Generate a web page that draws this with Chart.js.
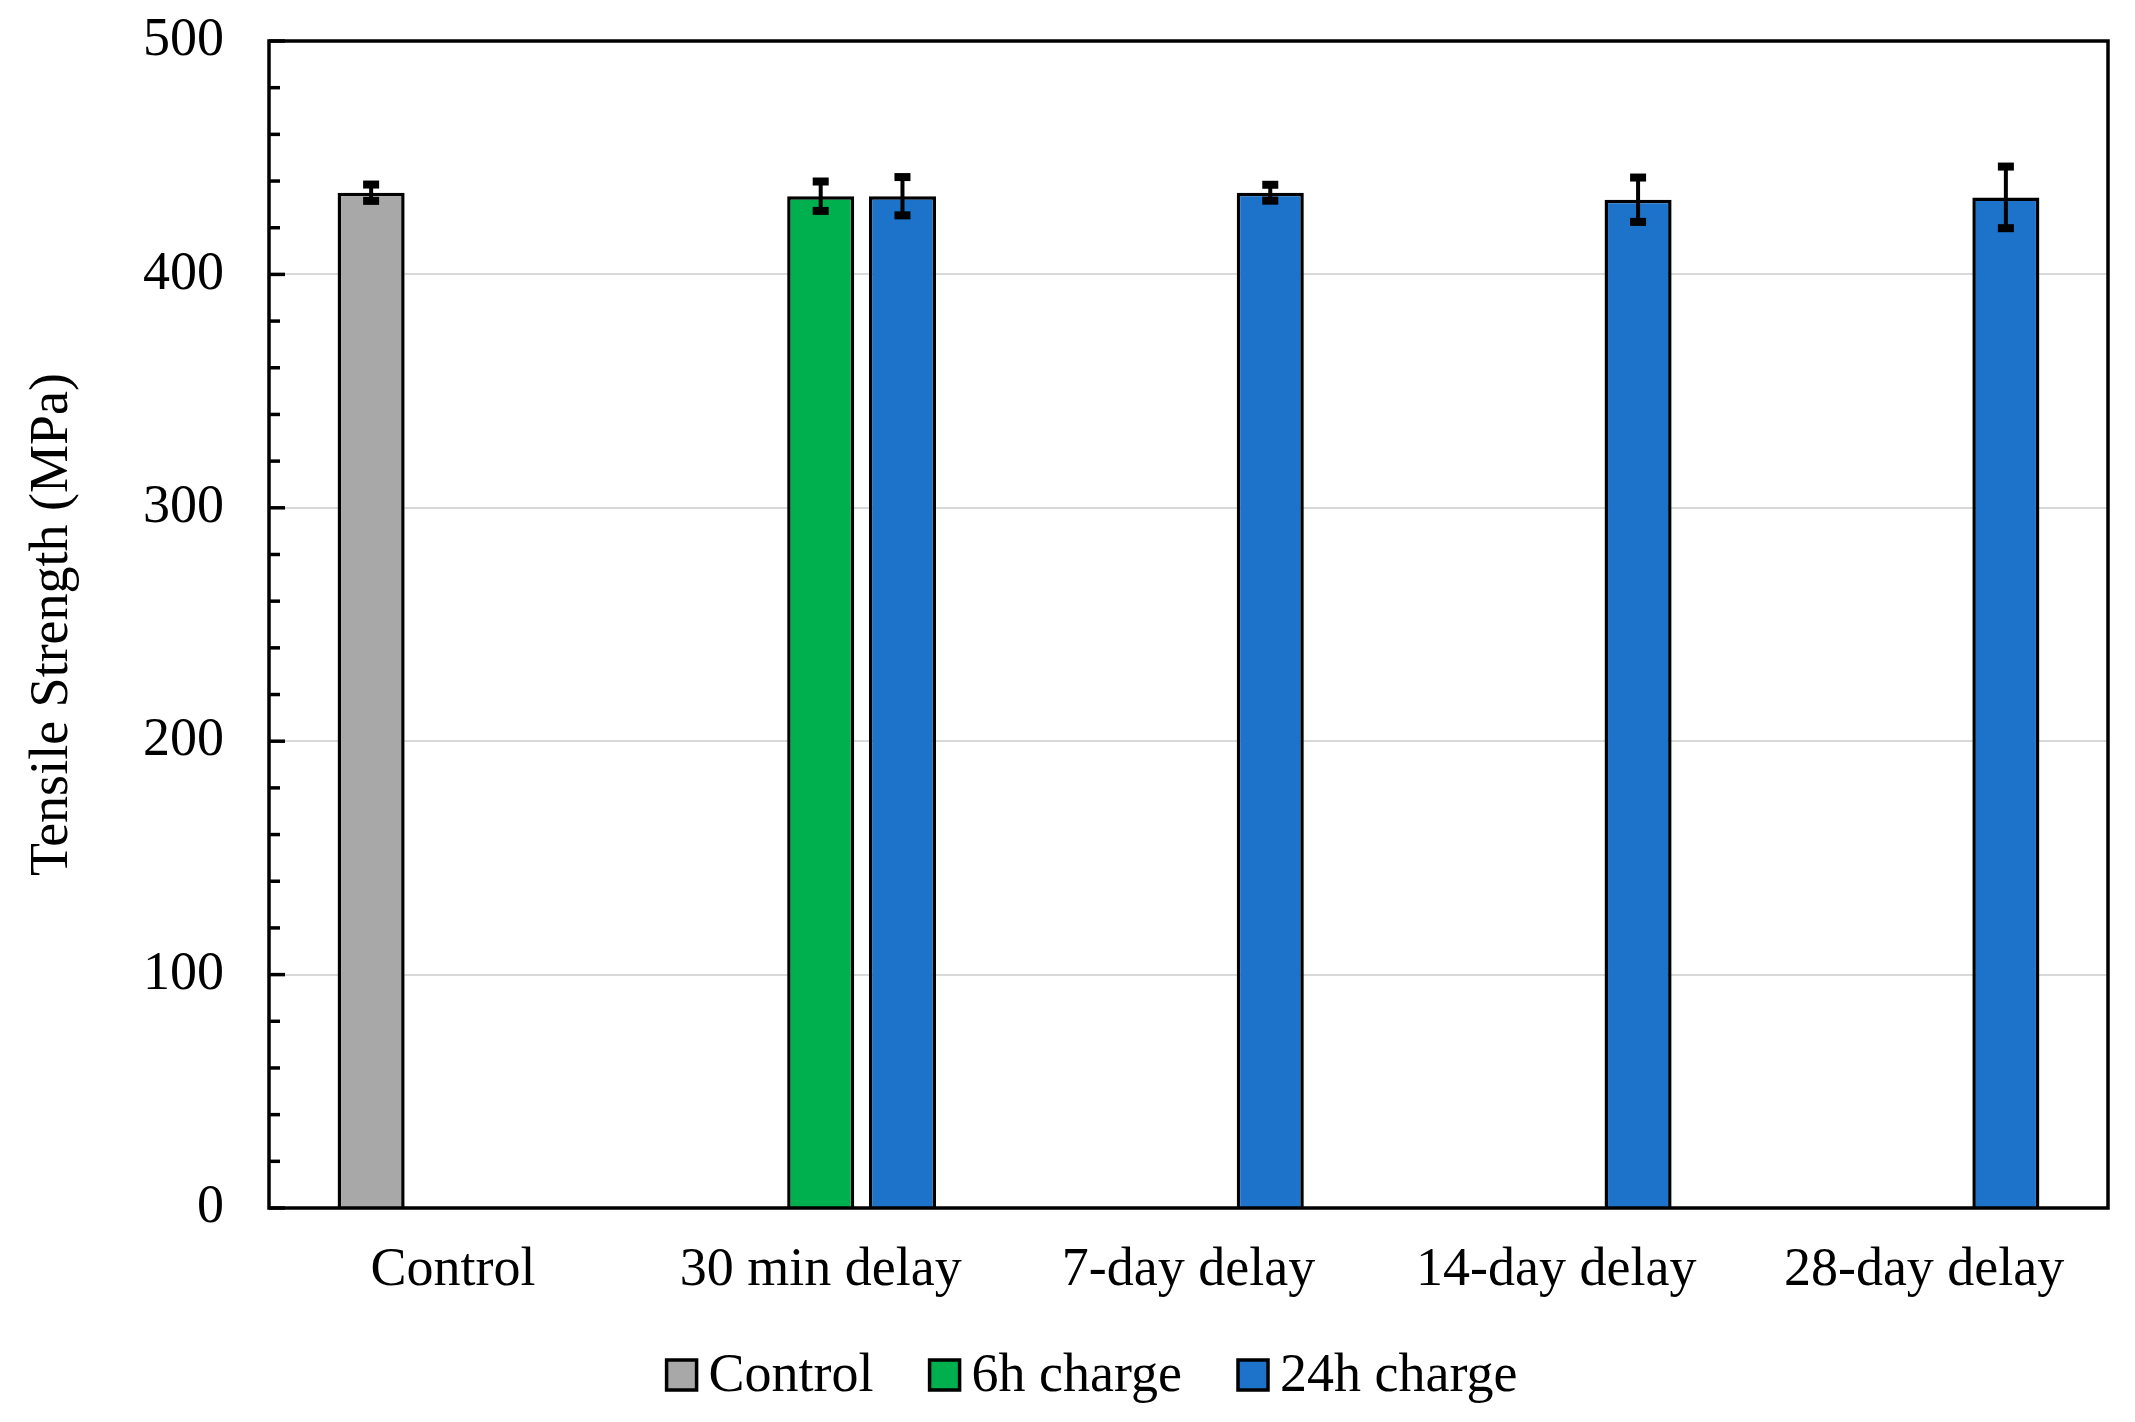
<!DOCTYPE html>
<html>
<head>
<meta charset="utf-8">
<script src="https://cdn.jsdelivr.net/npm/chart.js@4"></script>
<style>
  html, body { margin: 0; padding: 0; background: #fff; }
  #wrap { width: 2135px; height: 1422px; }
</style>
</head>
<body>
<div id="wrap"><canvas id="c" width="2135" height="1422"></canvas></div>
<script>
const categories = ["Control", "30 min delay", "7-day delay", "14-day delay", "28-day delay"];
const seriesNames = ["Control", "6h charge", "24h charge"];
const controlValues = [435, null, null, null, null];
const controlErrors = [3.5, null, null, null, null];
const charge6hValues = [null, 433.5, null, null, null];
const charge6hErrors = [null, 6.3, null, null, null];
const charge24hValues = [null, 433.5, 435, 432, 433];
const charge24hErrors = [null, 8.2, 3.4, 9.5, 13.2];
const yTicks = [0, 100, 200, 300, 400, 500];

const FONT = "'Liberation Serif', 'Times New Roman', serif";

const errorsByDataset = [controlErrors, charge6hErrors, charge24hErrors];

const errorBarPlugin = {
  id: 'errorBars',
  afterDatasetsDraw(chart) {
    const ctx = chart.ctx;
    const y = chart.scales.y;
    ctx.save();
    chart.data.datasets.forEach((ds, di) => {
      const meta = chart.getDatasetMeta(di);
      const errs = errorsByDataset[di];
      meta.data.forEach((el, i) => {
        const v = ds.data[i];
        const e = errs[i];
        if (v == null || e == null) return;
        const x = el.x;
        const yt = y.getPixelForValue(v + e);
        const yb = y.getPixelForValue(v - e);
        ctx.strokeStyle = '#000';
        ctx.lineWidth = 4;
        ctx.beginPath();
        ctx.moveTo(x, yt);
        ctx.lineTo(x, yb);
        ctx.stroke();
        ctx.fillStyle = '#000';
        ctx.fillRect(x - 8, yt - 4, 16, 8);
        ctx.fillRect(x - 8, yb - 4, 16, 8);
      });
    });
    ctx.restore();
  }
};

const framePlugin = {
  id: 'frame',
  afterDraw(chart) {
    const ctx = chart.ctx;
    const a = chart.chartArea;
    const y = chart.scales.y;
    ctx.save();
    ctx.strokeStyle = '#000';
    ctx.lineWidth = 3.5;
    ctx.strokeRect(a.left, a.top, a.right - a.left, a.bottom - a.top);
    for (let v = 0; v <= 500; v += 20) {
      const py = y.getPixelForValue(v);
      const len = (v % 100 === 0) ? 16 : 11;
      ctx.beginPath();
      ctx.moveTo(a.left, py);
      ctx.lineTo(a.left + len, py);
      ctx.stroke();
    }
    ctx.restore();
  }
};

// Legend drawn below the axis: boxes hug their labels like the reference
const legendPlugin = {
  id: 'customLegend',
  afterDraw(chart) {
    const ctx = chart.ctx;
    ctx.save();
    ctx.font = "54px " + FONT;
    ctx.textBaseline = 'middle';
    ctx.textAlign = 'left';
    const box = 30, gapText = 12, gapItem = 56;
    const items = chart.data.datasets.map(ds => ({
      label: ds.label, color: ds.backgroundColor, w: ctx.measureText(ds.label).width
    }));
    let total = 0;
    items.forEach((it, i) => { total += box + gapText + it.w + (i < items.length - 1 ? gapItem : 0); });
    const cx = 1092, cy = 1375;
    let x = cx - total / 2;
    items.forEach(it => {
      ctx.fillStyle = it.color;
      ctx.fillRect(x, cy - box / 2, box, box);
      ctx.strokeStyle = '#000';
      ctx.lineWidth = 3.5;
      ctx.strokeRect(x, cy - box / 2, box, box);
      ctx.fillStyle = '#000';
      ctx.fillText(it.label, x + box + gapText, cy + 2);
      x += box + gapText + it.w + gapItem;
    });
    ctx.restore();
  }
};

new Chart(document.getElementById('c'), {
  type: 'bar',
  data: {
    labels: categories,
    datasets: [
      { label: seriesNames[0], data: controlValues, backgroundColor: '#a8a8a8', borderColor: '#000', borderWidth: 3.5 },
      { label: seriesNames[1], data: charge6hValues, backgroundColor: '#00b04f', borderColor: '#000', borderWidth: 3.5 },
      { label: seriesNames[2], data: charge24hValues, backgroundColor: '#1c73c9', borderColor: '#000', borderWidth: 3.5 }
    ]
  },
  options: {
    responsive: false,
    animation: false,
    devicePixelRatio: 1,
    categoryPercentage: 0.667,
    barPercentage: 0.82,
    layout: { padding: { left: 20, right: 27, top: 41, bottom: 109 } },
    plugins: {
      legend: { display: false },
      tooltip: { enabled: false }
    },
    scales: {
      x: {
        grid: { display: false, drawTicks: false },
        border: { display: false },
        ticks: { font: { family: FONT, size: 54 }, color: '#000', padding: 30 },
        afterFit(scale) {
          scale.height = 105;
          scale.paddingLeft = 0;
          scale.paddingRight = 0;
        }
      },
      y: {
        min: 0,
        max: 500,
        afterBuildTicks(scale) { scale.ticks = yTicks.map(v => ({ value: v })); },
        grid: { color: '#d9d9d9', lineWidth: 2, drawTicks: false },
        border: { display: false },
        ticks: { font: { family: FONT, size: 54 }, color: '#000', padding: 45 },
        title: {
          display: true,
          text: 'Tensile Strength (MPa)',
          font: { family: FONT, size: 54 },
          color: '#000',
          padding: { top: 0, bottom: 0 }
        },
        afterFit(scale) {
          scale.width = 249;
          scale.paddingTop = 0;
          scale.paddingBottom = 0;
        }
      }
    }
  },
  plugins: [errorBarPlugin, framePlugin, legendPlugin]
});
</script>
</body>
</html>
